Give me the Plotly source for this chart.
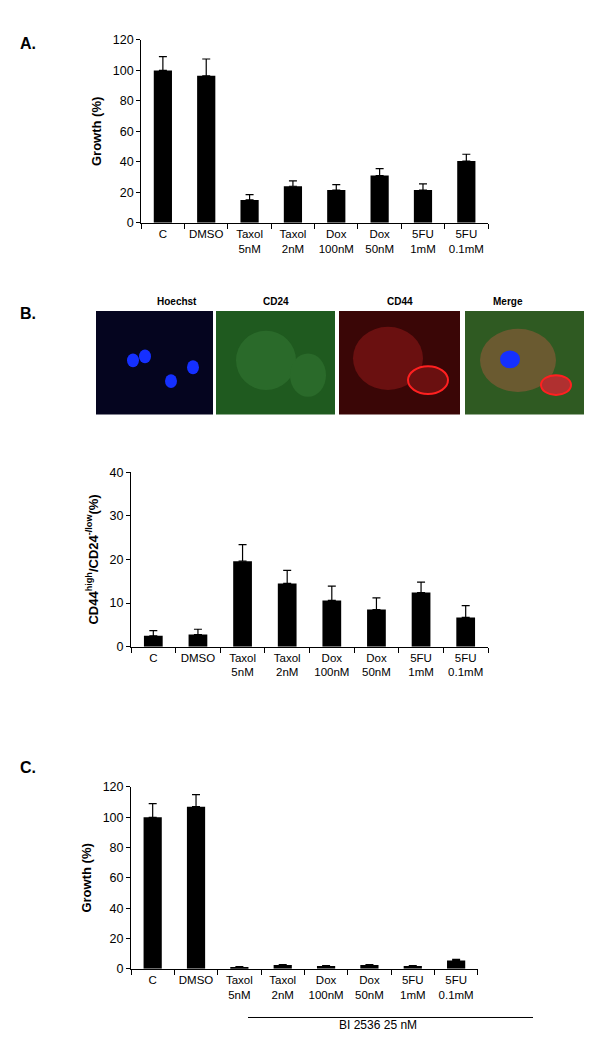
import plotly.graph_objects as go

cats = ["C", "DMSO", "Taxol<br>5nM", "Taxol<br>2nM", "Dox<br>100nM", "Dox<br>50nM", "5FU<br>1mM", "5FU<br>0.1mM"]
a_vals = [100, 96.5, 15, 24, 21.5, 31, 21.5, 40.5]
a_err = [9, 11, 3.5, 3.5, 3.5, 4.5, 4, 4.5]
b_vals = [2.5, 2.8, 19.6, 14.5, 10.6, 8.5, 12.4, 6.7]
b_err = [1.2, 1.2, 3.8, 3.0, 3.3, 2.7, 2.4, 2.7]
c_vals = [100, 107, 1, 2.5, 1.8, 2.5, 1.8, 5.5]
c_err = [9, 8, 0.5, 0.3, 0.3, 0.3, 0.3, 0.7]
img_titles = ["Hoechst", "CD24", "CD44", "Merge"]
img_colors = ["#05051f", "#1f5a1f", "#3a0606", "#2f5a22"]

FONT = "Liberation Sans, Arial, sans-serif"
fig = go.Figure()
for i, (v, e) in enumerate([(a_vals, a_err), (b_vals, b_err), (c_vals, c_err)]):
    sfx = "" if i == 0 else str(i + 1)
    fig.add_trace(go.Bar(x=cats, y=v, marker=dict(color="black", line=dict(width=0)), width=0.42,
                         error_y=dict(type="data", symmetric=False, array=e, arrayminus=[0]*8,
                                      color="black", thickness=1.2, width=4),
                         xaxis="x" + sfx, yaxis="y" + sfx, showlegend=False))

ax = dict(showline=True, linecolor="black", linewidth=1, ticks="outside", tickcolor="black",
          ticklen=4, showgrid=False, zeroline=False, tickfont=dict(family=FONT, size=12.5, color="black"))
xax = dict(ax, tickson="boundaries", ticklen=5, tickangle=0, tickfont=dict(family=FONT, size=11.5, color="black"))
tf = dict(family=FONT, size=13, color="black")
fig.update_layout(
    width=600, height=1053, margin=dict(l=0, r=0, t=0, b=0),
    plot_bgcolor="white", paper_bgcolor="white", bargap=0.6,
    xaxis=dict(xax, domain=[0.222, 0.80], anchor="y"),
    yaxis=dict(ax, domain=[0.80, 0.976], range=[0, 120], dtick=20, anchor="x",
               title=dict(text="<b>Growth (%)</b>", font=tf, standoff=8)),
    xaxis2=dict(xax, domain=[0.205, 0.80], anchor="y2"),
    yaxis2=dict(ax, domain=[0.392, 0.560], range=[0, 40], dtick=10, anchor="x2",
                title=dict(text="<b>CD44<sup>high</sup>/CD24<sup>-/low</sup>(%)</b>", font=tf, standoff=8)),
    xaxis3=dict(xax, domain=[0.205, 0.783], anchor="y3"),
    yaxis3=dict(ax, domain=[0.082, 0.257], range=[0, 120], dtick=20, anchor="x3",
                title=dict(text="<b>Growth (%)</b>", font=tf, standoff=8)),
)

def py(p):
    return 1 - p / 1053

for lbl, y in [("A.", 18), ("B.", 292), ("C.", 773)]:
    fig.add_annotation(text="<b>" + lbl + "</b>", x=10 / 600, y=py(y), xref="paper", yref="paper",
                       showarrow=False, xanchor="left", font=dict(family=FONT, size=16, color="black"))

xs = [(88, 205), (208, 327), (331, 452), (457, 576)]
for (x0, x1), t, c in zip(xs, img_titles, img_colors):
    fig.add_shape(type="rect", xref="paper", yref="paper", x0=x0/600, x1=x1/600, y0=py(405), y1=py(300),
                  fillcolor=c, line=dict(width=0), layer="below")
    fig.add_annotation(text="<b>" + t + "</b>", x=(x0 + x1) / 1200, y=py(298), xref="paper", yref="paper",
                       yanchor="bottom", showarrow=False, font=dict(family=FONT, size=10, color="black"))

def ell(cx, cy, rx, ry, col, line=None):
    fig.add_shape(type="circle", xref="paper", yref="paper", x0=(cx-rx)/600, x1=(cx+rx)/600,
                  y0=py(cy+ry), y1=py(cy-ry), fillcolor=col, line=line or dict(width=0))
for cx, cy in [(125, 350), (137, 346), (185, 357), (163, 371)]:
    ell(cx, cy, 6, 7, "#1530ff")
ell(258, 350, 30, 30, "#2a6a2a"); ell(300, 365, 18, 22, "#2a6a2a")
ell(380, 348, 35, 32, "#6a1010"); ell(420, 370, 20, 14, "#6a1010", dict(color="#ff2020", width=2))
ell(510, 350, 38, 32, "#6a5a30"); ell(502, 349, 10, 9, "#1530ff"); ell(548, 375, 15, 10, "#b03030", dict(color="#ff2020", width=2))

fig.add_shape(type="line", xref="paper", yref="paper", x0=240/600, x1=525/600, y0=py(1016), y1=py(1016),
              line=dict(color="black", width=1))
fig.add_annotation(text="BI 2536 25 nM", x=370/600, y=py(1033), xref="paper", yref="paper",
                   showarrow=False, font=dict(family=FONT, size=12, color="black"))

fig.write_html("out.html")
